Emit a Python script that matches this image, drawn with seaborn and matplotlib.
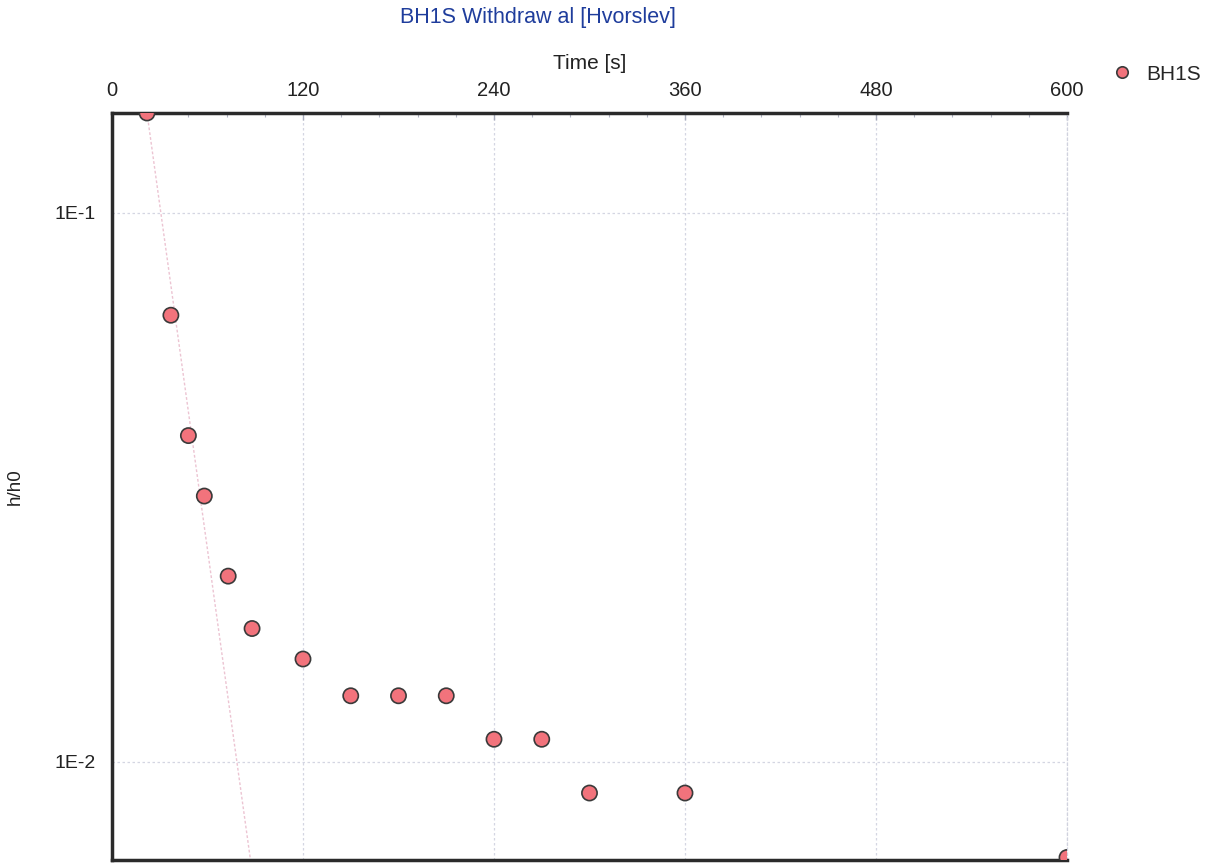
import numpy as np
import pandas as pd
import matplotlib
matplotlib.use("Agg")
import matplotlib.pyplot as plt
from matplotlib.ticker import FixedLocator, MultipleLocator, FuncFormatter, LogLocator, NullFormatter
import seaborn as sns

# Slug-test recovery data (withdrawal)
time_s = [22, 37, 48, 58, 73, 88, 120, 150, 180, 210, 240, 270, 300, 360, 600]
h_ratio = [0.152, 0.0651, 0.0393, 0.0305, 0.0218, 0.0175, 0.0154, 0.0132, 0.0132,
           0.0132, 0.0110, 0.0110, 0.00878, 0.00878, 0.0067]

# Hvorslev straight-line fit (end points)
fit_t = [22, 87]
fit_h = [0.152, 0.00663]

x_ticks = [0, 120, 240, 360, 480, 600]
y_ticks = [0.1, 0.01]
y_tick_labels = ["1E-1", "1E-2"]

df = pd.DataFrame({"Time": time_s, "h/h0": h_ratio, "Well": "BH1S"})
fit_df = pd.DataFrame({"Time": fit_t, "h/h0": fit_h})

sns.set_theme(style="white")
plt.rcParams["font.family"] = ["Liberation Sans", "DejaVu Sans"]

fig = plt.figure(figsize=(12.14, 8.64), dpi=100)
ax = fig.add_axes([112 / 1214, 1 - 860 / 864, (1067 - 112) / 1214, (860 - 113) / 864])

sns.lineplot(data=fit_df, x="Time", y="h/h0", ax=ax, color="#ecc4d2", lw=1.0,
             linestyle=(0, (2, 1.5)), zorder=2)
sns.scatterplot(data=df, x="Time", y="h/h0", hue="Well", palette=["#f2737c"], ax=ax,
                s=120, edgecolor="#3a3a3a", linewidth=1.2, zorder=3, clip_on=True)

ax.set_yscale("log")
ax.set_xlim(0, 600)
ax.set_ylim(0.00663, 0.152)

ax.xaxis.set_major_locator(FixedLocator(x_ticks))
ax.xaxis.set_minor_locator(MultipleLocator(24))
ax.yaxis.set_major_locator(FixedLocator(y_ticks))
ax.yaxis.set_major_formatter(FuncFormatter(
    lambda v, p: y_tick_labels[int(np.argmin([abs(np.log10(t) - np.log10(v)) for t in y_ticks]))]))
ax.yaxis.set_minor_locator(LogLocator(base=10, subs=np.arange(2, 10)))
ax.yaxis.set_minor_formatter(NullFormatter())

ax.xaxis.tick_top()
ax.xaxis.set_label_position("top")
ax.tick_params(axis="both", which="major", direction="in", length=5, width=1,
               color="#a8acbc", labelsize=14.5, labelcolor="#222222")
ax.tick_params(axis="x", pad=9)
ax.tick_params(axis="y", pad=12, labelsize=14)
ax.tick_params(axis="both", which="minor", direction="in", length=3, width=0.8,
               color="#b0b4c4")

ax.grid(True, which="major", color="#d4d6e2", linestyle=(0, (2, 2)), linewidth=0.9)

for side in ["left", "top", "bottom"]:
    ax.spines[side].set_color("#2a2a2a")
    ax.spines[side].set_linewidth(2.5)
ax.spines["right"].set_color("#d0d2de")
ax.spines["right"].set_linewidth(0.9)
ax.spines["right"].set_linestyle((0, (2, 2)))

ax.set_xlabel("Time [s]", fontsize=15, color="#222222", labelpad=9)
ax.set_ylabel("")
fig.text(15 / 1214, 1 - 487 / 864, "h/h0", rotation=90, ha="center", va="center",
         fontsize=13.5, color="#222222")

fig.text(538 / 1214, 1 - 18 / 864, "BH1S Withdraw al [Hvorslev]", ha="center",
         va="center", fontsize=15.5, color="#1f3d9c")

leg = ax.legend(loc="upper left", bbox_to_anchor=(1.016, 1.09), frameon=False,
                fontsize=15, handletextpad=0.15, markerscale=0.75, title=None)

fig.savefig("out.png", dpi=100)
